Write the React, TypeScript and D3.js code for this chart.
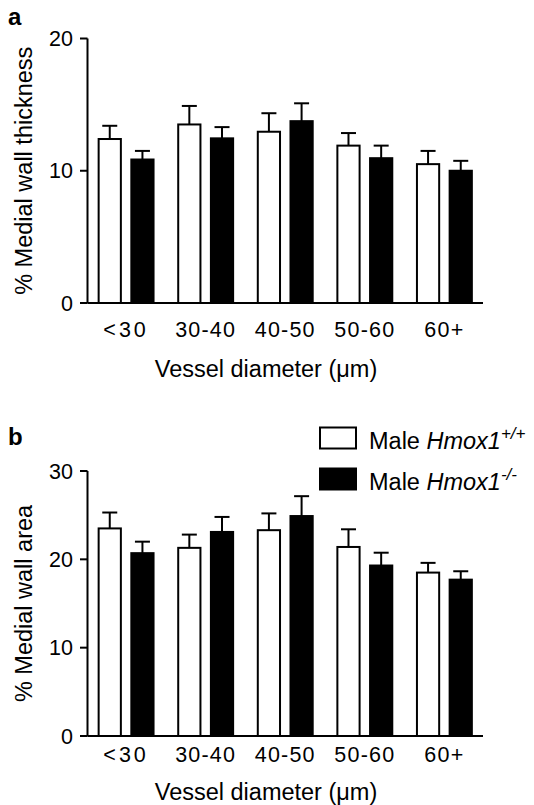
import React, { useEffect } from 'react';
import * as d3 from 'd3';

// vessel size groups
const categories = ['<30', '30-40', '40-50', '50-60', '60+'];
const series = ['wt', 'ko'];

// panel a: % medial wall thickness
const thicknessWt = [12.4, 13.5, 12.95, 11.9, 10.5];
const thicknessWtErr = [1.0, 1.4, 1.4, 0.95, 1.0];
const thicknessKo = [10.85, 12.45, 13.75, 10.95, 10.0];
const thicknessKoErr = [0.65, 0.85, 1.35, 0.95, 0.75];
const thicknessTicks = [0, 10, 20];

// panel b: % medial wall area
const areaWt = [23.5, 21.3, 23.3, 21.4, 18.5];
const areaWtErr = [1.8, 1.5, 1.9, 2.0, 1.1];
const areaKo = [20.7, 23.1, 24.9, 19.3, 17.7];
const areaKoErr = [1.3, 1.7, 2.25, 1.45, 0.95];
const areaTicks = [0, 10, 20, 30];

const FONT = '"Liberation Sans", Arial, Helvetica, sans-serif';
const LEFT = 87.5;
const RIGHT = 483;

type PanelProps = {
  letter: string;
  letterY: number;
  top: number;
  bottom: number;
  ticks: number[];
  wt: number[];
  wtErr: number[];
  ko: number[];
  koErr: number[];
  yTitle: string;
  tickLabelY: number;
  titleY: number;
};

const Panel = ({ letter, letterY, top, bottom, ticks, wt, wtErr, ko, koErr, yTitle, tickLabelY, titleY }: PanelProps) => {
  // outer band per vessel group, inner band per genotype
  const x = d3.scaleBand().domain(categories).range([LEFT, RIGHT]).paddingInner(0.31).paddingOuter(0.14);
  const xi = d3.scaleBand().domain(series).range([0, x.bandwidth()]).paddingInner(0.32);
  const y = d3.scaleLinear().domain([0, d3.max(ticks) as number]).range([bottom, top]);
  const capHalf = 7.5;

  const bars = categories.flatMap((c, i) =>
    series.map((s) => ({
      key: `${c}-${s}`,
      s,
      x0: (x(c) as number) + (xi(s) as number),
      v: s === 'wt' ? wt[i] : ko[i],
      e: s === 'wt' ? wtErr[i] : koErr[i],
    }))
  );

  return (
    <g>
      <text x={8} y={letterY} fontSize={24} fontWeight="bold" fontFamily={FONT}>{letter}</text>

      {/* bars with upward SEM whiskers */}
      {bars.map((b) => {
        const cx = b.x0 + xi.bandwidth() / 2;
        return (
          <g key={b.key}>
            <line x1={cx} x2={cx} y1={y(b.v)} y2={y(b.v + b.e)} stroke="#000" strokeWidth={2} />
            <line x1={cx - capHalf} x2={cx + capHalf} y1={y(b.v + b.e)} y2={y(b.v + b.e)} stroke="#000" strokeWidth={2} />
            <rect
              x={b.x0}
              y={y(b.v)}
              width={xi.bandwidth()}
              height={bottom - y(b.v)}
              fill={b.s === 'wt' ? '#fff' : '#000'}
              stroke="#000"
              strokeWidth={2}
            />
          </g>
        );
      })}

      {/* axes */}
      <line x1={LEFT} x2={LEFT} y1={top} y2={bottom} stroke="#000" strokeWidth={2} />
      <line x1={LEFT} x2={RIGHT} y1={bottom} y2={bottom} stroke="#000" strokeWidth={2} />
      {ticks.map((t) => (
        <g key={t}>
          <line x1={80} x2={LEFT} y1={y(t)} y2={y(t)} stroke="#000" strokeWidth={2} />
          <text x={73} y={y(t)} dy="0.36em" textAnchor="end" fontSize={21.5} fontFamily={FONT}>{t}</text>
        </g>
      ))}
      {categories.map((c) => (
        <text
          key={c}
          x={(x(c) as number) + x.bandwidth() / 2}
          y={tickLabelY}
          textAnchor="middle"
          fontSize={21.5}
          letterSpacing={c === '<30' ? 3 : 1.2}
          fontFamily={FONT}
        >
          {c}
        </text>
      ))}

      <text x={266} y={titleY} textAnchor="middle" fontSize={23.5} fontFamily={FONT}>Vessel diameter (μm)</text>
      <text
        transform={`translate(32, ${(top + bottom) / 2}) rotate(-90)`}
        textAnchor="middle"
        fontSize={23.5}
        fontFamily={FONT}
      >
        {yTitle}
      </text>
    </g>
  );
};

const Legend = () => {
  const items = [
    { s: 'wt', sup: '+/+', y: 427.5 },
    { s: 'ko', sup: '-/-', y: 468.5 },
  ];
  return (
    <g>
      {items.map((it) => (
        <g key={it.s}>
          <rect
            x={320}
            y={it.y}
            width={36}
            height={21}
            fill={it.s === 'wt' ? '#fff' : '#000'}
            stroke="#000"
            strokeWidth={2}
          />
          <text x={369} y={it.y + 21} fontSize={23.5} fontFamily={FONT}>
            Male <tspan fontStyle="italic">Hmox1</tspan>
            <tspan fontStyle="italic" fontSize={17} dy={-10}>{it.sup}</tspan>
          </text>
        </g>
      ))}
    </g>
  );
};

const App = () => {
  useEffect(() => {
    document.body.style.margin = '0';
  }, []);

  return (
    <svg width={534} height={805} style={{ display: 'block', background: '#fff' }}>
      <Panel
        letter="a"
        letterY={25}
        top={38.5}
        bottom={303}
        ticks={thicknessTicks}
        wt={thicknessWt}
        wtErr={thicknessWtErr}
        ko={thicknessKo}
        koErr={thicknessKoErr}
        yTitle="% Medial wall thickness"
        tickLabelY={337}
        titleY={377}
      />
      <Panel
        letter="b"
        letterY={445}
        top={471}
        bottom={736}
        ticks={areaTicks}
        wt={areaWt}
        wtErr={areaWtErr}
        ko={areaKo}
        koErr={areaKoErr}
        yTitle="% Medial wall area"
        tickLabelY={762}
        titleY={800}
      />
      <Legend />
    </svg>
  );
};

export default App;
